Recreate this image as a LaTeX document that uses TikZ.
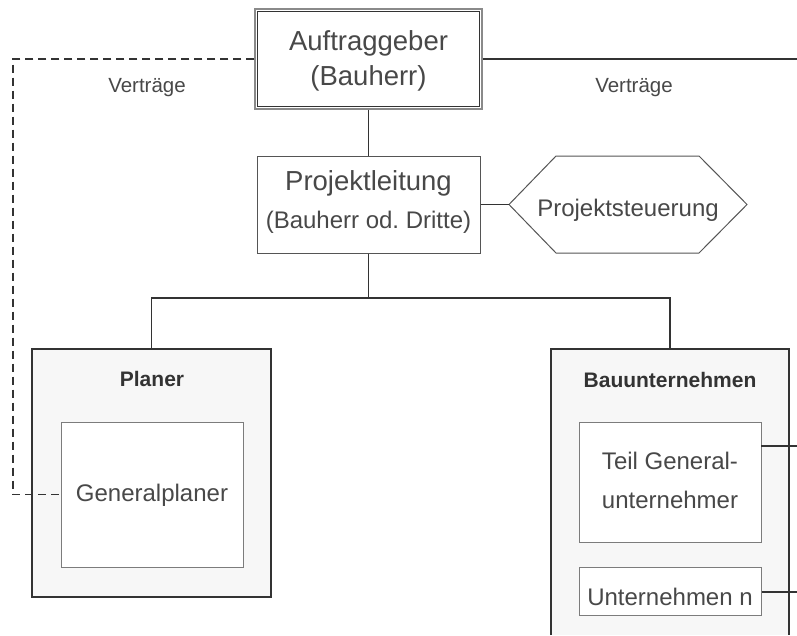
\documentclass[tikz,border=0pt]{standalone}
\usepackage{fontspec}
\setmainfont{Liberation Sans}
\frenchspacing
\usetikzlibrary{calc}
\definecolor{ink}{HTML}{484848}
\definecolor{edge}{HTML}{333333}
\definecolor{panel}{HTML}{F7F7F7}
\definecolor{thin}{HTML}{7C7C7C}
\definecolor{mid}{HTML}{555555}
\definecolor{outerline}{HTML}{8A8A8A}

\begin{document}
\begin{tikzpicture}[x=1pt,y=1pt,
  every node/.style={text=ink, inner sep=0pt, align=center},
  big/.style={font=\fontsize{27.5}{34}\selectfont},
  normal/.style={font=\fontsize{24}{39}\selectfont},
  small/.style={font=\fontsize{20.5}{24}\selectfont},
  heading/.style={font=\bfseries\fontsize{21}{25}\selectfont, text=edge},
  conn/.style={draw=edge, line width=1.3pt},
  contract/.style={draw=edge, line width=1.2pt, dashed, dash pattern=on 8pt off 5pt},
  mainbox/.style={draw=mid, line width=1pt, fill=white, rectangle},
  groupbox/.style={draw=edge, line width=2pt, fill=panel, rectangle},
  innerbox/.style={draw=thin, line width=1pt, fill=white, rectangle},
]
\useasboundingbox (0,0) rectangle (797,-635);

% client, double framed
\node[draw=outerline, line width=1.2pt, fill=white, rectangle,
      minimum width=227, minimum height=100] (top) at (368.5,-59) {};
\draw[edge, line width=1.5pt] ($(top.north west)+(3,-3)$) rectangle ($(top.south east)+(-3,3)$);
\node[big] at (368.5,-43) {Auftraggeber};
\node[big] at (368.5,-78) {(Bauherr)};

\node[small] (v1) at (147,-88) {Verträge};
\node[small] (v2) at (634,-88) {Verträge};

% project management
\node[mainbox, minimum width=223, minimum height=97] (pl) at (368.5,-204.5) {};
\node[big] at (368.5,-183) {Projektleitung};
\node[normal] at (368.5,-222) {(Bauherr od. Dritte)};

% project control, hexagon
\coordinate (psw) at (509,-204.5);
\node[normal] (ps) at (628,-210) {Projektsteuerung};
\draw[mid, line width=1pt] (psw) -- (556,-156) -- (699,-156) -- (747,-204.5)
  -- (699,-253) -- (556,-253) -- cycle;

% planners
\node[groupbox, minimum width=239, minimum height=248] (planer) at (151.5,-473) {};
\node[heading] at (152,-379) {Planer};
\node[innerbox, minimum width=182, minimum height=145] (gp) at (152,-494.5) {};
\node[normal] at (152,-495) {Generalplaner};

% contractors (open at the bottom)
\node[fill=panel, rectangle, minimum width=238, minimum height=286] (bau) at (670,-492) {};
\draw[edge, line width=2pt] (bau.south west) -- (bau.north west) -- (bau.north east) -- (bau.south east);
\node[heading] at (670,-380) {Bauunternehmen};
\node[innerbox, minimum width=182, minimum height=120] (tgu) at (670,-482) {};
\node[normal] at (670,-461) {Teil General-};
\node[normal] at (670,-500) {unternehmer};
\node[innerbox, minimum width=182, minimum height=48] (un) at (670,-591) {};
\node[normal] at (670,-597) {Unternehmen n};

% connectors
\coordinate (rtop) at (797,-59);
\coordinate (ltop) at (13,-59);
\coordinate (lbot) at (13,-494.5);
\coordinate (j) at (368.5,-298);
\coordinate (tguout) at (761,-446);
\coordinate (r1) at (797,-446);
\coordinate (r2) at (797,-592);

\draw[conn] (top.south) -- (pl.north);
\draw[conn] (pl.east) -- (psw);
\draw[conn] (pl.south) -- (j);
\draw[conn] (planer.north) |- (j) -| (bau.north);
\draw[conn] (top.east) -- (rtop);
\draw[conn] (tguout) -- (r1);
\draw[conn] (un.east |- r2) -- (r2);
\draw[contract] (top.west) -- (ltop) -- (lbot) -- (gp.west);
\end{tikzpicture}
\end{document}
